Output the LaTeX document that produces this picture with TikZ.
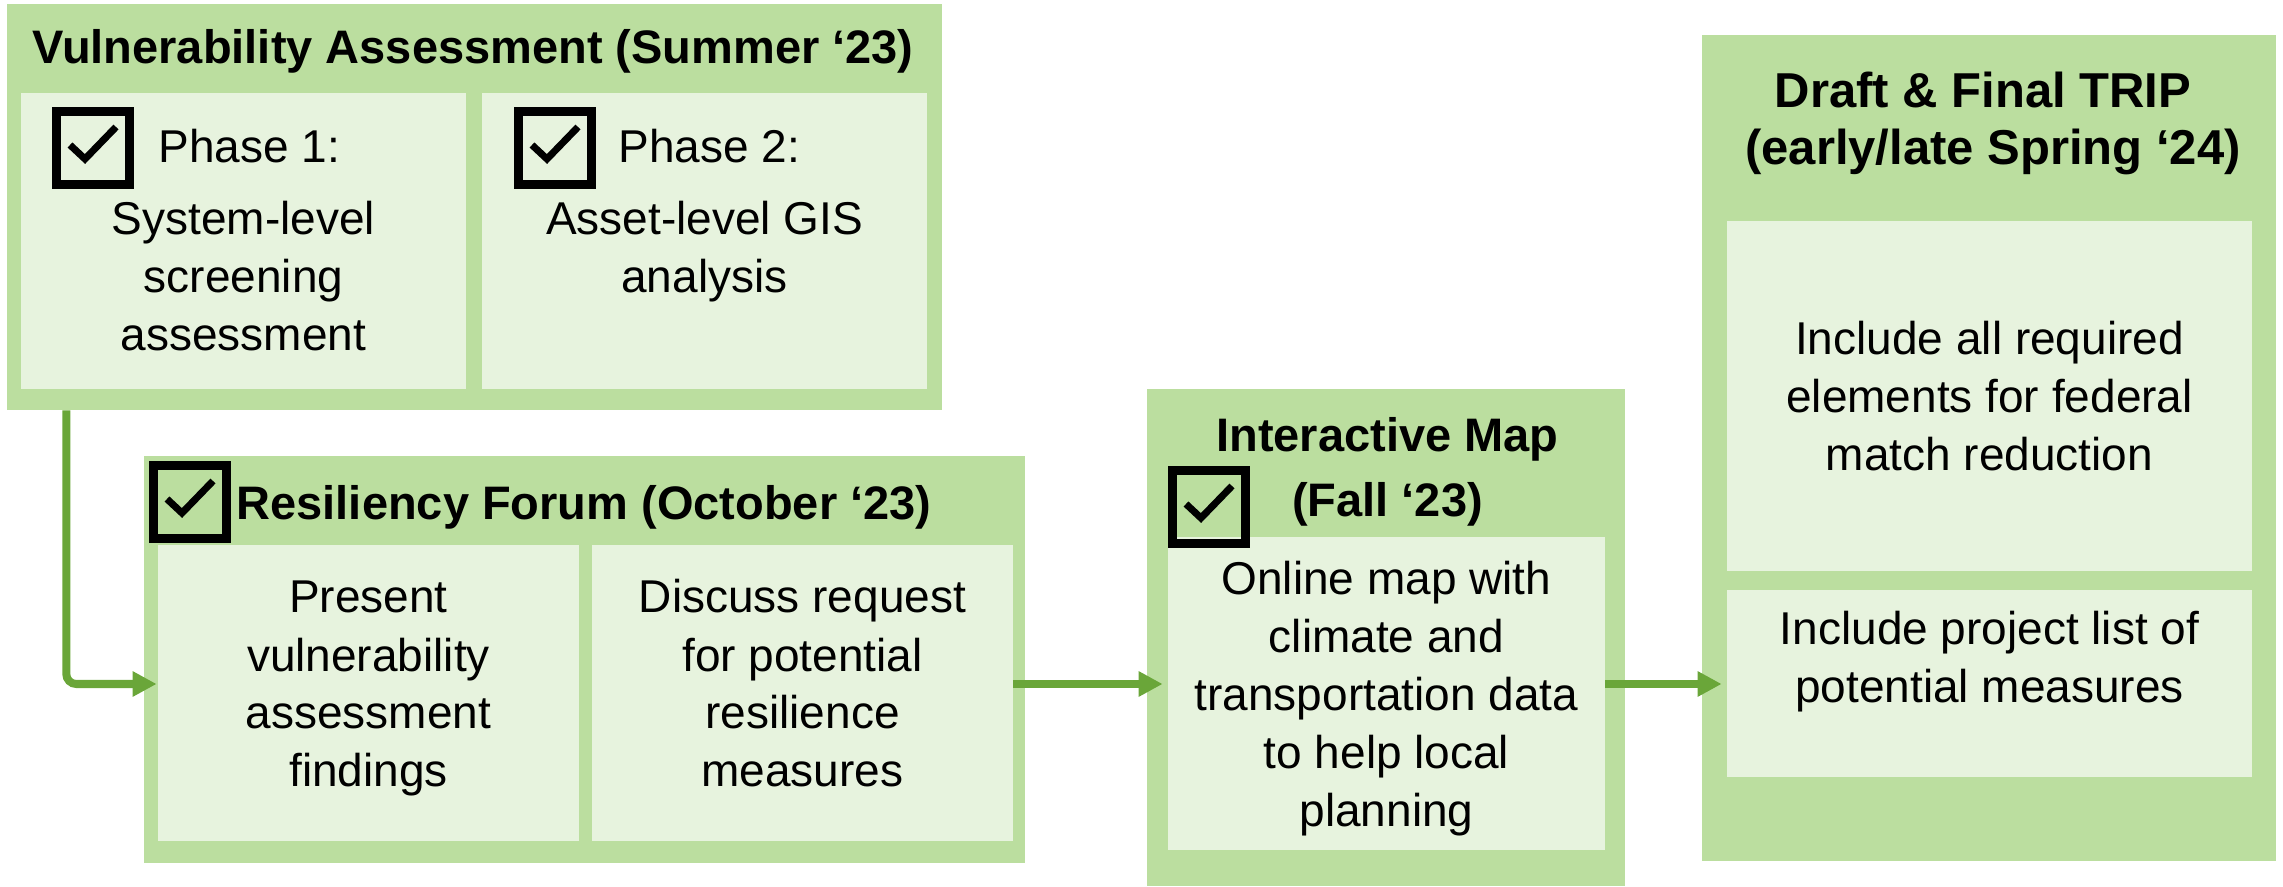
\documentclass[tikz,border=0pt]{standalone}
\usepackage{fontspec}
\setmainfont{Liberation Sans}
\usetikzlibrary{arrows.meta}
\definecolor{outerg}{RGB}{187,222,159}
\definecolor{innerg}{RGB}{231,243,222}
\definecolor{arrg}{RGB}{106,166,57}
\newcommand{\mylines}[1]{\begin{tabular}[t]{@{}c@{}}#1\end{tabular}}
\begin{document}
\begin{tikzpicture}[x=0.5pt, y=-0.5pt,
  outer/.style={fill=outerg, draw=none, inner sep=0pt},
  inner/.style={fill=innerg, draw=none, inner sep=0pt},
  body/.style={anchor=base, inner sep=0pt, font=\fontsize{23}{29}\selectfont},
  ttl/.style={anchor=base, inner sep=0pt, font=\bfseries\fontsize{23.5}{32.5}\selectfont},
  dttl/.style={anchor=base, inner sep=0pt, font=\bfseries\fontsize{24.5}{29}\selectfont},
  arr/.style={draw=arrg, line width=4pt, -{Triangle[length=12pt,width=12pt]}},
  chk/.pic={
    \draw[line width=4.5pt] (4.5,4.5) rectangle (77.5,77.5);
    \draw[line width=3.5pt, line join=miter] (18,38) -- (33,52) -- (64,20);
  }
]
\useasboundingbox (0,0) rectangle (2283,887);

% boxes
\node[outer, minimum width=467.5pt, minimum height=203pt] (va) at (474.5,207) {};
\node[inner, minimum width=222.5pt, minimum height=148pt] (vain1) at (243.5,241) {};
\node[inner, minimum width=222.5pt, minimum height=148pt] (vain2) at (704.5,241) {};

\node[outer, minimum width=440.5pt, minimum height=203.5pt] (rf) at (584.5,659.5) {};
\node[inner, minimum width=210.5pt, minimum height=148pt] (rfin1) at (368.5,693) {};
\node[inner, minimum width=210.5pt, minimum height=148pt] (rfin2) at (802.5,693) {};

\node[outer, minimum width=239pt, minimum height=248.5pt] (im) at (1386,637.5) {};
\node[inner, minimum width=218.5pt, minimum height=156.5pt] (imin) at (1386.5,693.5) {};

\node[outer, minimum width=287pt, minimum height=413pt] (dt) at (1989,448) {};
\node[inner, minimum width=262.5pt, minimum height=175pt] (dtin1) at (1989.5,396) {};
\node[inner, minimum width=262.5pt, minimum height=93.5pt] (dtin2) at (1989.5,683.5) {};

% texts
\node[ttl] (vat) at (473,64) {Vulnerability Assessment (Summer ‘23)};
\node[body, anchor=base west] (p1) at (158,163) {Phase 1:};
\node[body] (p1t) at (243.5,235) {\mylines{System-level\\screening\\assessment}};
\node[body, anchor=base west] (p2) at (618,163) {Phase 2:};
\node[body] (p2t) at (704.5,235) {\mylines{Asset-level GIS\\analysis}};

\node[ttl] (rft) at (584,520) {Resiliency Forum (October ‘23)};
\node[body] (rf1t) at (368.5,613) {\mylines{Present\\vulnerability\\assessment\\findings}};
\node[body] (rf2t) at (802.5,613) {\mylines{Discuss request\\for potential\\resilience\\measures}};

\node[ttl] (imt1) at (1387.5,452) {Interactive Map};
\node[ttl] (imt2) at (1387.5,517) {(Fall ‘23)};
\node[body] (imtx) at (1386.5,595) {\mylines{Online map with\\climate and\\transportation data\\to help local\\planning}};

\node[dttl] (dtt1) at (1983,108) {Draft \& Final TRIP};
\node[dttl] (dtt2) at (1993,165) {(early/late Spring ‘24)};
\node[body] (dt1t) at (1989.5,355) {\mylines{Include all required\\elements for federal\\match reduction}};
\node[body] (dt2t) at (1989.5,645) {\mylines{Include project list of\\potential measures}};

% check boxes
\pic at (52,107) {chk};
\pic at (514,107) {chk};
\pic at (149,461) {chk};
\pic at (1168,466) {chk};

% connectors
\coordinate (row) at (0,684);
\draw[arr, rounded corners=5pt] ([xshift=29.85pt]va.south west) |- ([xshift=-0.5pt]rfin1.west |- row);
\draw[arr] (rfin2.east |- row) -- ([xshift=-2.5pt]imin.west |- row);
\draw[arr] (imin.east |- row) -- ([xshift=-2.5pt]dtin2.west |- row);
\end{tikzpicture}
\end{document}
